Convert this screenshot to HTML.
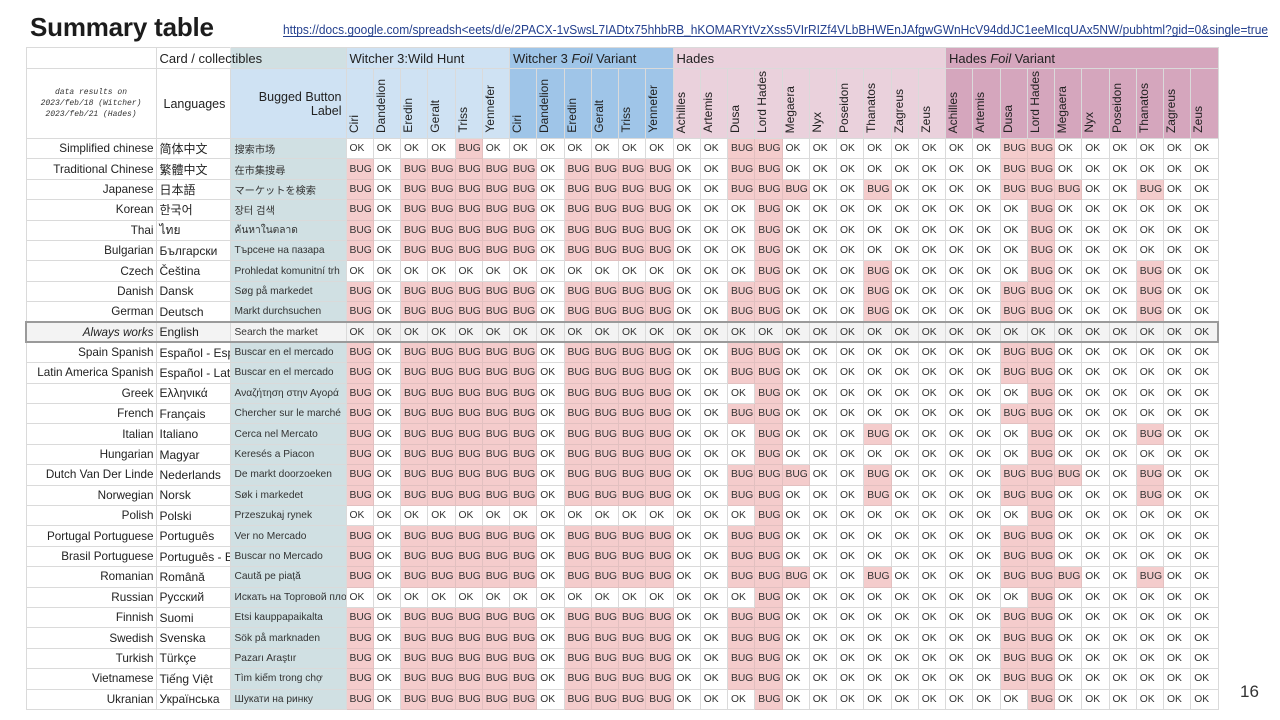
<!DOCTYPE html>
<html><head><meta charset="utf-8">
<style>
html,body{margin:0;padding:0}
body{width:1280px;height:720px;background:#fff;position:relative;overflow:hidden;font-family:"Liberation Sans",Arial,"Noto Sans CJK SC",sans-serif}
.title{position:absolute;left:30px;top:14px;font-size:26px;line-height:26px;font-weight:bold;color:#1c1c1c;letter-spacing:-0.2px}
.url{position:absolute;left:0;top:0}
.pg{position:absolute;left:1240px;top:683px;font-size:17px;line-height:17px;color:#333}
table{position:absolute;left:25px;top:47px;width:1192px;border-collapse:collapse;table-layout:fixed;font-family:"Liberation Sans",Arial,"Noto Sans CJK SC","Noto Sans CJK JP","Noto Sans CJK KR",sans-serif;color:#333}
td{border:1px solid #dadada;padding:0;white-space:nowrap;overflow:hidden}
thead tr.h1{height:21px}
thead tr.h1 td{font-size:13px;padding-left:3px;color:#222;vertical-align:middle}
thead tr.h1 td.ov{overflow:visible}
thead tr.h1 td.bov{overflow:visible;border-right-color:#e8e8e8}
thead tr.h2{height:70px}
.wh{background:#cfe2f3}
.wf{background:#9fc5e8}
.hd{background:#ead1dc}
.hf{background:#d5a6bd}
.tc{background:#d0e0e3}
td.note{font-family:"Liberation Mono",monospace;font-style:italic;font-size:8px;line-height:11px;text-align:center;vertical-align:middle;color:#333}
td.lang{font-size:12.5px;padding-left:7px;vertical-align:middle;color:#222}
td.bbl{font-size:12.5px;line-height:14px;text-align:right;padding-right:4px;vertical-align:middle;color:#222;background:#cfe2f3}
td.r{vertical-align:bottom;padding:0 0 0 1px;text-align:left}
td.r div{writing-mode:vertical-rl;transform:rotate(180deg);font-size:12px;line-height:12px;display:inline-block;white-space:nowrap;color:#222}
tbody tr{height:20.4px}
tbody td{font-size:10.3px;padding-left:3px;vertical-align:middle}
tbody td:nth-child(1){text-align:right;padding:0 2px 0 0;font-size:11.7px;color:#222}
tbody td:nth-child(2){font-size:12px;padding-left:3px;color:#222}
tbody td:nth-child(3){background:#d0e0e3;font-size:10.2px;padding-left:4px}
td.b{background:#f4cccc;border-color:#e2c0c0}
tbody td:nth-child(10),thead tr.h2 td:nth-child(10),td.sb{border-left:1px solid #4a7fd0}
tbody td:nth-child(16),thead tr.h2 td:nth-child(16),td.sr{border-left:1px solid #e89a9a}
tbody td:nth-child(26),thead tr.h2 td:nth-child(26),td.sp{border-left:1px solid #ddb3cc}
tbody tr.en td{background:#f3f3f3;border-top:2px solid #9a9a9a;border-bottom:2px solid #9a9a9a}
tbody tr.en td:first-child{border-left:2px solid #9a9a9a;font-style:italic}
tbody tr.en td:last-child{border-right:2px solid #9a9a9a}
</style></head><body>
<div class="title">Summary table</div>
<svg class="url" width="1280" height="45" xmlns="http://www.w3.org/2000/svg">
<text x="283" y="34" font-family="Liberation Sans, Arial, sans-serif" font-size="12.5" fill="#24408e" textLength="985" lengthAdjust="spacingAndGlyphs">https://docs.google.com/spreadsh&lt;eets/d/e/2PACX-1vSwsL7IADtx75hhbRB_hKOMARYtVzXss5VIrRIZf4VLbBHWEnJAfgwGWnHcV94ddJC1eeMIcqUAx5NW/pubhtml?gid=0&amp;single=true</text>
<rect x="283" y="36" width="985" height="1" fill="#24408e"/>
</svg>
<table>
<colgroup><col style="width:130px"><col style="width:74px"><col style="width:116px">
<col style="width:27.25px"><col style="width:27.25px"><col style="width:27.25px"><col style="width:27.25px"><col style="width:27.25px"><col style="width:27.25px">
<col style="width:27.25px"><col style="width:27.25px"><col style="width:27.25px"><col style="width:27.25px"><col style="width:27.25px"><col style="width:27.25px">
<col style="width:27.25px"><col style="width:27.25px"><col style="width:27.25px"><col style="width:27.25px"><col style="width:27.25px"><col style="width:27.25px"><col style="width:27.25px"><col style="width:27.25px"><col style="width:27.25px"><col style="width:27.25px">
<col style="width:27.25px"><col style="width:27.25px"><col style="width:27.25px"><col style="width:27.25px"><col style="width:27.25px"><col style="width:27.25px"><col style="width:27.25px"><col style="width:27.25px"><col style="width:27.25px"><col style="width:27.25px">
</colgroup>
<thead>
<tr class="h1"><td></td><td class="bov">Card / collectibles</td><td class="tc"></td>
<td colspan="6" class="wh ov">Witcher 3:Wild Hunt</td>
<td colspan="6" class="wf sb ov">Witcher 3 <i>Foil</i> Variant</td>
<td colspan="10" class="hd sr ov">Hades</td>
<td colspan="10" class="hf sp ov">Hades <i>Foil</i> Variant</td>
</tr>
<tr class="h2"><td class="note">data results on<br>2023/feb/18 (Witcher)<br>2023/feb/21 (Hades)</td><td class="lang">Languages</td><td class="bbl">Bugged Button<br>Label</td>
<td class="r wh"><div>Ciri</div></td><td class="r wh"><div>Dandelion</div></td><td class="r wh"><div>Eredin</div></td><td class="r wh"><div>Geralt</div></td><td class="r wh"><div>Triss</div></td><td class="r wh"><div>Yennefer</div></td>
<td class="r wf"><div>Ciri</div></td><td class="r wf"><div>Dandelion</div></td><td class="r wf"><div>Eredin</div></td><td class="r wf"><div>Geralt</div></td><td class="r wf"><div>Triss</div></td><td class="r wf"><div>Yennefer</div></td>
<td class="r hd"><div>Achilles</div></td><td class="r hd"><div>Artemis</div></td><td class="r hd"><div>Dusa</div></td><td class="r hd"><div>Lord Hades</div></td><td class="r hd"><div>Megaera</div></td><td class="r hd"><div>Nyx</div></td><td class="r hd"><div>Poseidon</div></td><td class="r hd"><div>Thanatos</div></td><td class="r hd"><div>Zagreus</div></td><td class="r hd"><div>Zeus</div></td>
<td class="r hf"><div>Achilles</div></td><td class="r hf"><div>Artemis</div></td><td class="r hf"><div>Dusa</div></td><td class="r hf"><div>Lord Hades</div></td><td class="r hf"><div>Megaera</div></td><td class="r hf"><div>Nyx</div></td><td class="r hf"><div>Poseidon</div></td><td class="r hf"><div>Thanatos</div></td><td class="r hf"><div>Zagreus</div></td><td class="r hf"><div>Zeus</div></td>
</tr>
</thead>
<tbody>
<tr><td>Simplified chinese<td>简体中文<td>搜索市场<td>OK<td>OK<td>OK<td>OK<td class=b>BUG<td>OK<td>OK<td>OK<td>OK<td>OK<td>OK<td>OK<td>OK<td>OK<td class=b>BUG<td class=b>BUG<td>OK<td>OK<td>OK<td>OK<td>OK<td>OK<td>OK<td>OK<td class=b>BUG<td class=b>BUG<td>OK<td>OK<td>OK<td>OK<td>OK<td>OK</tr>
<tr><td>Traditional Chinese<td>繁體中文<td>在市集搜尋<td class=b>BUG<td>OK<td class=b>BUG<td class=b>BUG<td class=b>BUG<td class=b>BUG<td class=b>BUG<td>OK<td class=b>BUG<td class=b>BUG<td class=b>BUG<td class=b>BUG<td>OK<td>OK<td class=b>BUG<td class=b>BUG<td>OK<td>OK<td>OK<td>OK<td>OK<td>OK<td>OK<td>OK<td class=b>BUG<td class=b>BUG<td>OK<td>OK<td>OK<td>OK<td>OK<td>OK</tr>
<tr><td>Japanese<td>日本語<td>マーケットを検索<td class=b>BUG<td>OK<td class=b>BUG<td class=b>BUG<td class=b>BUG<td class=b>BUG<td class=b>BUG<td>OK<td class=b>BUG<td class=b>BUG<td class=b>BUG<td class=b>BUG<td>OK<td>OK<td class=b>BUG<td class=b>BUG<td class=b>BUG<td>OK<td>OK<td class=b>BUG<td>OK<td>OK<td>OK<td>OK<td class=b>BUG<td class=b>BUG<td class=b>BUG<td>OK<td>OK<td class=b>BUG<td>OK<td>OK</tr>
<tr><td>Korean<td>한국어<td>장터 검색<td class=b>BUG<td>OK<td class=b>BUG<td class=b>BUG<td class=b>BUG<td class=b>BUG<td class=b>BUG<td>OK<td class=b>BUG<td class=b>BUG<td class=b>BUG<td class=b>BUG<td>OK<td>OK<td>OK<td class=b>BUG<td>OK<td>OK<td>OK<td>OK<td>OK<td>OK<td>OK<td>OK<td>OK<td class=b>BUG<td>OK<td>OK<td>OK<td>OK<td>OK<td>OK</tr>
<tr><td>Thai<td>ไทย<td>ค้นหาในตลาด<td class=b>BUG<td>OK<td class=b>BUG<td class=b>BUG<td class=b>BUG<td class=b>BUG<td class=b>BUG<td>OK<td class=b>BUG<td class=b>BUG<td class=b>BUG<td class=b>BUG<td>OK<td>OK<td>OK<td class=b>BUG<td>OK<td>OK<td>OK<td>OK<td>OK<td>OK<td>OK<td>OK<td>OK<td class=b>BUG<td>OK<td>OK<td>OK<td>OK<td>OK<td>OK</tr>
<tr><td>Bulgarian<td>Български<td>Търсене на пазара<td class=b>BUG<td>OK<td class=b>BUG<td class=b>BUG<td class=b>BUG<td class=b>BUG<td class=b>BUG<td>OK<td class=b>BUG<td class=b>BUG<td class=b>BUG<td class=b>BUG<td>OK<td>OK<td>OK<td class=b>BUG<td>OK<td>OK<td>OK<td>OK<td>OK<td>OK<td>OK<td>OK<td>OK<td class=b>BUG<td>OK<td>OK<td>OK<td>OK<td>OK<td>OK</tr>
<tr><td>Czech<td>Čeština<td>Prohledat komunitní trh<td>OK<td>OK<td>OK<td>OK<td>OK<td>OK<td>OK<td>OK<td>OK<td>OK<td>OK<td>OK<td>OK<td>OK<td>OK<td class=b>BUG<td>OK<td>OK<td>OK<td class=b>BUG<td>OK<td>OK<td>OK<td>OK<td>OK<td class=b>BUG<td>OK<td>OK<td>OK<td class=b>BUG<td>OK<td>OK</tr>
<tr><td>Danish<td>Dansk<td>Søg på markedet<td class=b>BUG<td>OK<td class=b>BUG<td class=b>BUG<td class=b>BUG<td class=b>BUG<td class=b>BUG<td>OK<td class=b>BUG<td class=b>BUG<td class=b>BUG<td class=b>BUG<td>OK<td>OK<td class=b>BUG<td class=b>BUG<td>OK<td>OK<td>OK<td class=b>BUG<td>OK<td>OK<td>OK<td>OK<td class=b>BUG<td class=b>BUG<td>OK<td>OK<td>OK<td class=b>BUG<td>OK<td>OK</tr>
<tr><td>German<td>Deutsch<td>Markt durchsuchen<td class=b>BUG<td>OK<td class=b>BUG<td class=b>BUG<td class=b>BUG<td class=b>BUG<td class=b>BUG<td>OK<td class=b>BUG<td class=b>BUG<td class=b>BUG<td class=b>BUG<td>OK<td>OK<td class=b>BUG<td class=b>BUG<td>OK<td>OK<td>OK<td class=b>BUG<td>OK<td>OK<td>OK<td>OK<td class=b>BUG<td class=b>BUG<td>OK<td>OK<td>OK<td class=b>BUG<td>OK<td>OK</tr>
<tr class="en"><td>Always works<td>English<td>Search the market<td>OK<td>OK<td>OK<td>OK<td>OK<td>OK<td>OK<td>OK<td>OK<td>OK<td>OK<td>OK<td>OK<td>OK<td>OK<td>OK<td>OK<td>OK<td>OK<td>OK<td>OK<td>OK<td>OK<td>OK<td>OK<td>OK<td>OK<td>OK<td>OK<td>OK<td>OK<td>OK</tr>
<tr><td>Spain Spanish<td>Español - España<td>Buscar en el mercado<td class=b>BUG<td>OK<td class=b>BUG<td class=b>BUG<td class=b>BUG<td class=b>BUG<td class=b>BUG<td>OK<td class=b>BUG<td class=b>BUG<td class=b>BUG<td class=b>BUG<td>OK<td>OK<td class=b>BUG<td class=b>BUG<td>OK<td>OK<td>OK<td>OK<td>OK<td>OK<td>OK<td>OK<td class=b>BUG<td class=b>BUG<td>OK<td>OK<td>OK<td>OK<td>OK<td>OK</tr>
<tr><td>Latin America Spanish<td>Español - Latinoamérica<td>Buscar en el mercado<td class=b>BUG<td>OK<td class=b>BUG<td class=b>BUG<td class=b>BUG<td class=b>BUG<td class=b>BUG<td>OK<td class=b>BUG<td class=b>BUG<td class=b>BUG<td class=b>BUG<td>OK<td>OK<td class=b>BUG<td class=b>BUG<td>OK<td>OK<td>OK<td>OK<td>OK<td>OK<td>OK<td>OK<td class=b>BUG<td class=b>BUG<td>OK<td>OK<td>OK<td>OK<td>OK<td>OK</tr>
<tr><td>Greek<td>Ελληνικά<td>Αναζήτηση στην Αγορά<td class=b>BUG<td>OK<td class=b>BUG<td class=b>BUG<td class=b>BUG<td class=b>BUG<td class=b>BUG<td>OK<td class=b>BUG<td class=b>BUG<td class=b>BUG<td class=b>BUG<td>OK<td>OK<td>OK<td class=b>BUG<td>OK<td>OK<td>OK<td>OK<td>OK<td>OK<td>OK<td>OK<td>OK<td class=b>BUG<td>OK<td>OK<td>OK<td>OK<td>OK<td>OK</tr>
<tr><td>French<td>Français<td>Chercher sur le marché<td class=b>BUG<td>OK<td class=b>BUG<td class=b>BUG<td class=b>BUG<td class=b>BUG<td class=b>BUG<td>OK<td class=b>BUG<td class=b>BUG<td class=b>BUG<td class=b>BUG<td>OK<td>OK<td class=b>BUG<td class=b>BUG<td>OK<td>OK<td>OK<td>OK<td>OK<td>OK<td>OK<td>OK<td class=b>BUG<td class=b>BUG<td>OK<td>OK<td>OK<td>OK<td>OK<td>OK</tr>
<tr><td>Italian<td>Italiano<td>Cerca nel Mercato<td class=b>BUG<td>OK<td class=b>BUG<td class=b>BUG<td class=b>BUG<td class=b>BUG<td class=b>BUG<td>OK<td class=b>BUG<td class=b>BUG<td class=b>BUG<td class=b>BUG<td>OK<td>OK<td>OK<td class=b>BUG<td>OK<td>OK<td>OK<td class=b>BUG<td>OK<td>OK<td>OK<td>OK<td>OK<td class=b>BUG<td>OK<td>OK<td>OK<td class=b>BUG<td>OK<td>OK</tr>
<tr><td>Hungarian<td>Magyar<td>Keresés a Piacon<td class=b>BUG<td>OK<td class=b>BUG<td class=b>BUG<td class=b>BUG<td class=b>BUG<td class=b>BUG<td>OK<td class=b>BUG<td class=b>BUG<td class=b>BUG<td class=b>BUG<td>OK<td>OK<td>OK<td class=b>BUG<td>OK<td>OK<td>OK<td>OK<td>OK<td>OK<td>OK<td>OK<td>OK<td class=b>BUG<td>OK<td>OK<td>OK<td>OK<td>OK<td>OK</tr>
<tr><td>Dutch Van Der Linde<td>Nederlands<td>De markt doorzoeken<td class=b>BUG<td>OK<td class=b>BUG<td class=b>BUG<td class=b>BUG<td class=b>BUG<td class=b>BUG<td>OK<td class=b>BUG<td class=b>BUG<td class=b>BUG<td class=b>BUG<td>OK<td>OK<td class=b>BUG<td class=b>BUG<td class=b>BUG<td>OK<td>OK<td class=b>BUG<td>OK<td>OK<td>OK<td>OK<td class=b>BUG<td class=b>BUG<td class=b>BUG<td>OK<td>OK<td class=b>BUG<td>OK<td>OK</tr>
<tr><td>Norwegian<td>Norsk<td>Søk i markedet<td class=b>BUG<td>OK<td class=b>BUG<td class=b>BUG<td class=b>BUG<td class=b>BUG<td class=b>BUG<td>OK<td class=b>BUG<td class=b>BUG<td class=b>BUG<td class=b>BUG<td>OK<td>OK<td class=b>BUG<td class=b>BUG<td>OK<td>OK<td>OK<td class=b>BUG<td>OK<td>OK<td>OK<td>OK<td class=b>BUG<td class=b>BUG<td>OK<td>OK<td>OK<td class=b>BUG<td>OK<td>OK</tr>
<tr><td>Polish<td>Polski<td>Przeszukaj rynek<td>OK<td>OK<td>OK<td>OK<td>OK<td>OK<td>OK<td>OK<td>OK<td>OK<td>OK<td>OK<td>OK<td>OK<td>OK<td class=b>BUG<td>OK<td>OK<td>OK<td>OK<td>OK<td>OK<td>OK<td>OK<td>OK<td class=b>BUG<td>OK<td>OK<td>OK<td>OK<td>OK<td>OK</tr>
<tr><td>Portugal Portuguese<td>Português<td>Ver no Mercado<td class=b>BUG<td>OK<td class=b>BUG<td class=b>BUG<td class=b>BUG<td class=b>BUG<td class=b>BUG<td>OK<td class=b>BUG<td class=b>BUG<td class=b>BUG<td class=b>BUG<td>OK<td>OK<td class=b>BUG<td class=b>BUG<td>OK<td>OK<td>OK<td>OK<td>OK<td>OK<td>OK<td>OK<td class=b>BUG<td class=b>BUG<td>OK<td>OK<td>OK<td>OK<td>OK<td>OK</tr>
<tr><td>Brasil Portuguese<td>Português - Brasil<td>Buscar no Mercado<td class=b>BUG<td>OK<td class=b>BUG<td class=b>BUG<td class=b>BUG<td class=b>BUG<td class=b>BUG<td>OK<td class=b>BUG<td class=b>BUG<td class=b>BUG<td class=b>BUG<td>OK<td>OK<td class=b>BUG<td class=b>BUG<td>OK<td>OK<td>OK<td>OK<td>OK<td>OK<td>OK<td>OK<td class=b>BUG<td class=b>BUG<td>OK<td>OK<td>OK<td>OK<td>OK<td>OK</tr>
<tr><td>Romanian<td>Română<td>Caută pe piață<td class=b>BUG<td>OK<td class=b>BUG<td class=b>BUG<td class=b>BUG<td class=b>BUG<td class=b>BUG<td>OK<td class=b>BUG<td class=b>BUG<td class=b>BUG<td class=b>BUG<td>OK<td>OK<td class=b>BUG<td class=b>BUG<td class=b>BUG<td>OK<td>OK<td class=b>BUG<td>OK<td>OK<td>OK<td>OK<td class=b>BUG<td class=b>BUG<td class=b>BUG<td>OK<td>OK<td class=b>BUG<td>OK<td>OK</tr>
<tr><td>Russian<td>Русский<td>Искать на Торговой площадке<td>OK<td>OK<td>OK<td>OK<td>OK<td>OK<td>OK<td>OK<td>OK<td>OK<td>OK<td>OK<td>OK<td>OK<td>OK<td class=b>BUG<td>OK<td>OK<td>OK<td>OK<td>OK<td>OK<td>OK<td>OK<td>OK<td class=b>BUG<td>OK<td>OK<td>OK<td>OK<td>OK<td>OK</tr>
<tr><td>Finnish<td>Suomi<td>Etsi kauppapaikalta<td class=b>BUG<td>OK<td class=b>BUG<td class=b>BUG<td class=b>BUG<td class=b>BUG<td class=b>BUG<td>OK<td class=b>BUG<td class=b>BUG<td class=b>BUG<td class=b>BUG<td>OK<td>OK<td class=b>BUG<td class=b>BUG<td>OK<td>OK<td>OK<td>OK<td>OK<td>OK<td>OK<td>OK<td class=b>BUG<td class=b>BUG<td>OK<td>OK<td>OK<td>OK<td>OK<td>OK</tr>
<tr><td>Swedish<td>Svenska<td>Sök på marknaden<td class=b>BUG<td>OK<td class=b>BUG<td class=b>BUG<td class=b>BUG<td class=b>BUG<td class=b>BUG<td>OK<td class=b>BUG<td class=b>BUG<td class=b>BUG<td class=b>BUG<td>OK<td>OK<td class=b>BUG<td class=b>BUG<td>OK<td>OK<td>OK<td>OK<td>OK<td>OK<td>OK<td>OK<td class=b>BUG<td class=b>BUG<td>OK<td>OK<td>OK<td>OK<td>OK<td>OK</tr>
<tr><td>Turkish<td>Türkçe<td>Pazarı Araştır<td class=b>BUG<td>OK<td class=b>BUG<td class=b>BUG<td class=b>BUG<td class=b>BUG<td class=b>BUG<td>OK<td class=b>BUG<td class=b>BUG<td class=b>BUG<td class=b>BUG<td>OK<td>OK<td class=b>BUG<td class=b>BUG<td>OK<td>OK<td>OK<td>OK<td>OK<td>OK<td>OK<td>OK<td class=b>BUG<td class=b>BUG<td>OK<td>OK<td>OK<td>OK<td>OK<td>OK</tr>
<tr><td>Vietnamese<td>Tiếng Việt<td>Tìm kiếm trong chợ<td class=b>BUG<td>OK<td class=b>BUG<td class=b>BUG<td class=b>BUG<td class=b>BUG<td class=b>BUG<td>OK<td class=b>BUG<td class=b>BUG<td class=b>BUG<td class=b>BUG<td>OK<td>OK<td class=b>BUG<td class=b>BUG<td>OK<td>OK<td>OK<td>OK<td>OK<td>OK<td>OK<td>OK<td class=b>BUG<td class=b>BUG<td>OK<td>OK<td>OK<td>OK<td>OK<td>OK</tr>
<tr><td>Ukranian<td>Українська<td>Шукати на ринку<td class=b>BUG<td>OK<td class=b>BUG<td class=b>BUG<td class=b>BUG<td class=b>BUG<td class=b>BUG<td>OK<td class=b>BUG<td class=b>BUG<td class=b>BUG<td class=b>BUG<td>OK<td>OK<td>OK<td class=b>BUG<td>OK<td>OK<td>OK<td>OK<td>OK<td>OK<td>OK<td>OK<td>OK<td class=b>BUG<td>OK<td>OK<td>OK<td>OK<td>OK<td>OK</tr>
</tbody>
</table>
<div class="pg">16</div>
</body></html>
